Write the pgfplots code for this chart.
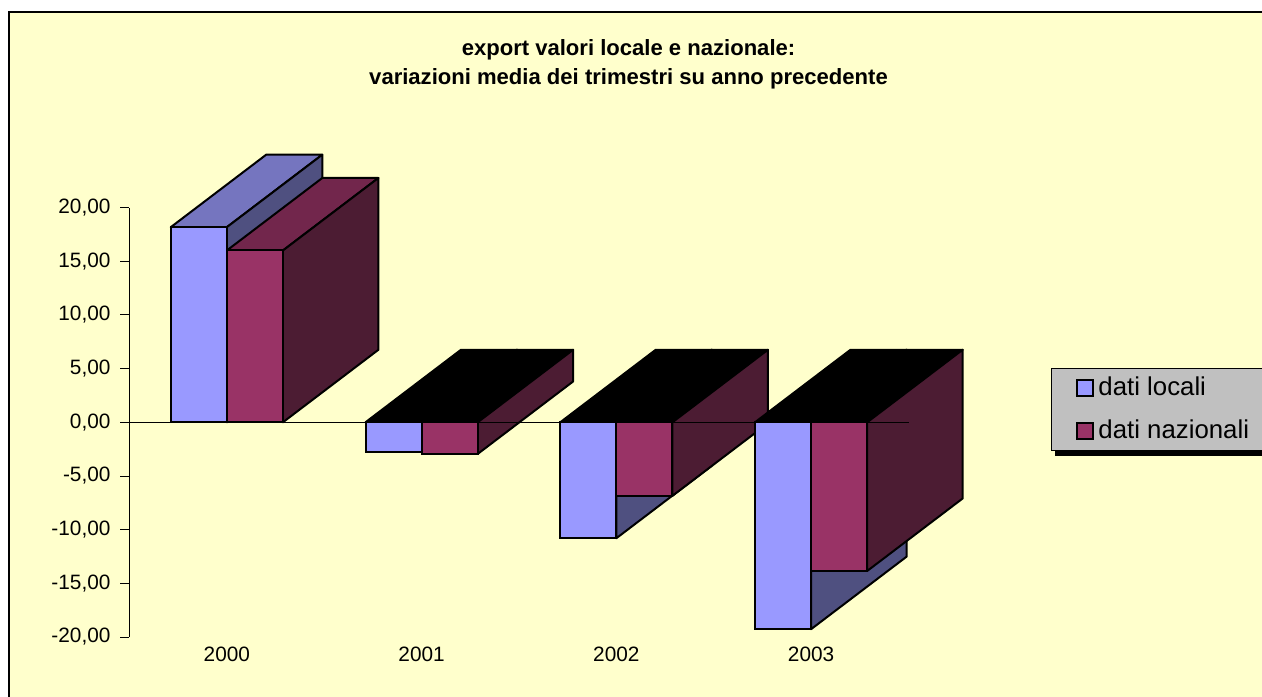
\documentclass[border=0pt]{standalone}
\usepackage{fontspec}
\setmainfont{Liberation Sans}
\usepackage{pgfplots}
\pgfplotsset{compat=1.18}

\definecolor{paper}{HTML}{FFFFCC}
\definecolor{locfront}{HTML}{9999FF}
\definecolor{loctop}{HTML}{7575BF}
\definecolor{locside}{HTML}{4F5080}
\definecolor{natfront}{HTML}{993366}
\definecolor{nattop}{HTML}{72264C}
\definecolor{natside}{HTML}{4C1C33}
\definecolor{legbox}{HTML}{C0C0C0}

\pgfplotsset{
    face/.style={draw=black, line width=1pt, line join=round, forget plot},
}

\begin{document}
% 1 px of the reference = 0.5pt; axis box at x 129.5..908.5, y 207..637
\begin{tikzpicture}
\path[use as bounding box] (-64.75pt,-29.5pt) rectangle (566.25pt,318.5pt);
\fill[paper] (-60.25pt,-40pt) rectangle (580pt,312.5pt);
\draw[black, line width=0.7pt] (-60.25pt,-40pt) -- (-60.25pt,312.5pt) -- (580pt,312.5pt);
% legend shadow
\fill[black] (462.75pt,90.5pt) rectangle (580pt,100pt);

\begin{axis}[
    scale only axis,
    width=389.5pt,
    height=214.75pt,
    xmin=-0.5, xmax=3.5,
    ymin=-20, ymax=20,
    clip=false,
    axis lines*=left,
    x axis line style={draw=none},
    x tick style={draw=none},
    y tick style={black, line width=0.4pt},
    y axis line style={black, line width=0.4pt},
    tick align=outside,
    major tick length=4.5pt,
    xtick={0,1,2,3},
    xticklabels={2000,2001,2002,2003},
    ytick={-20,-15,-10,-5,0,5,10,15,20},
    yticklabels={{-20,00},{-15,00},{-10,00},{-5,00},{0,00},{5,00},{10,00},{15,00},{20,00}},
    tick label style={font=\fontsize{10.4}{12}\selectfont},
    xticklabel style={yshift=3pt},
    yticklabel style={xshift=-1.5pt},
    title={export valori locale e nazionale:\\variazioni media dei trimestri su anno precedente},
    title style={at={(0.6406,1.306)}, anchor=center, align=center,
        font=\fontsize{11.03}{14.5}\selectfont\bfseries},
    legend style={at={(1.183,0.6257)}, anchor=north west, fill=legbox, draw=black,
        line width=0.4pt, font=\fontsize{12.9}{14}\selectfont,
        row sep=6.5pt, inner xsep=12.5pt, inner ysep=2.25pt},
    legend cell align=left,
]

% 2000
\addplot[face, fill=loctop] coordinates {(-0.288,18.17) (0,18.17) (0.49,24.92) (0.202,24.92)} -- cycle;
\addplot[face, fill=locside] coordinates {(0,0) (0,18.17) (0.49,24.92) (0.49,6.75)} -- cycle;
\addplot[face, fill=nattop] coordinates {(0,16) (0.288,16) (0.778,22.75) (0.49,22.75)} -- cycle;
\addplot[face, fill=natside] coordinates {(0.288,0) (0.288,16) (0.778,22.75) (0.778,6.75)} -- cycle;
% 2001
\addplot[face, fill=black] coordinates {(0.712,0) (1,0) (1.49,6.75) (1.202,6.75)} -- cycle;
\addplot[face, fill=locside] coordinates {(1,0) (1,-2.73) (1.49,4.02) (1.49,6.75)} -- cycle;
\addplot[face, fill=black] coordinates {(1,0) (1.288,0) (1.778,6.75) (1.49,6.75)} -- cycle;
\addplot[face, fill=natside] coordinates {(1.288,0) (1.288,-2.95) (1.778,3.8) (1.778,6.75)} -- cycle;
% 2002
\addplot[face, fill=black] coordinates {(1.712,0) (2,0) (2.49,6.75) (2.202,6.75)} -- cycle;
\addplot[face, fill=locside] coordinates {(2,0) (2,-10.8) (2.49,-4.05) (2.49,6.75)} -- cycle;
\addplot[face, fill=black] coordinates {(2,0) (2.288,0) (2.778,6.75) (2.49,6.75)} -- cycle;
\addplot[face, fill=natside] coordinates {(2.288,0) (2.288,-6.85) (2.778,-0.1) (2.778,6.75)} -- cycle;
% 2003
\addplot[face, fill=black] coordinates {(2.712,0) (3,0) (3.49,6.75) (3.202,6.75)} -- cycle;
\addplot[face, fill=locside] coordinates {(3,0) (3,-19.27) (3.49,-12.52) (3.49,6.75)} -- cycle;
\addplot[face, fill=black] coordinates {(3,0) (3.288,0) (3.778,6.75) (3.49,6.75)} -- cycle;
\addplot[face, fill=natside] coordinates {(3.288,0) (3.288,-13.85) (3.778,-7.1) (3.778,6.75)} -- cycle;

% front faces, the actual values
\addplot[ybar, bar width=0.288, bar shift=-0.144, draw=black, line width=1pt, fill=locfront,
    legend image code/.code={\draw[draw=black, line width=1pt, fill=locfront] (0pt,-4pt) rectangle (8pt,4pt);}]
    coordinates {(0,18.17) (1,-2.73) (2,-10.8) (3,-19.27)};
\addlegendentry{dati locali}
\addplot[ybar, bar width=0.288, bar shift=0.144, draw=black, line width=1pt, fill=natfront,
    legend image code/.code={\draw[draw=black, line width=1pt, fill=natfront] (0pt,-4pt) rectangle (8pt,4pt);}]
    coordinates {(0,16) (1,-2.95) (2,-6.85) (3,-13.85)};
\addlegendentry{dati nazionali\rule{24pt}{0pt}}

% zero line over the side faces
\addplot[black, line width=0.4pt, forget plot] coordinates {(-0.5,0) (3.5,0)};
\end{axis}
\end{tikzpicture}
\end{document}
